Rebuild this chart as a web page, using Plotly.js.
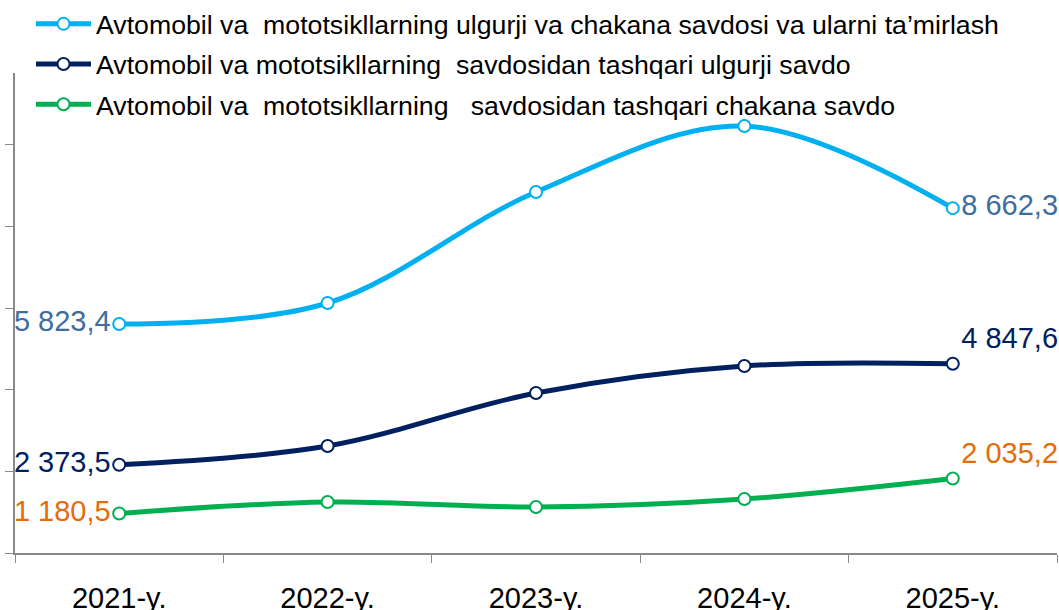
<!DOCTYPE html>
<html>
<head>
<meta charset="utf-8">
<script src="https://cdn.plot.ly/plotly-3.0.1.min.js"></script>
<style>
html,body{margin:0;padding:0;background:#fff;}
#chart{width:1059px;height:610px;}
</style>
</head>
<body>
<div id="chart"></div>
<script>
const categories = ["2021-y.", "2022-y.", "2023-y.", "2024-y.", "2025-y."];
const seriesNames = [
  "Avtomobil va\u00A0 mototsikllarning ulgurji va chakana savdosi va ularni ta’mirlash",
  "Avtomobil va mototsikllarning\u00A0 savdosidan tashqari ulgurji savdo",
  "Avtomobil va\u00A0 mototsikllarning\u00A0\u00A0 savdosidan tashqari chakana savdo"
];
const repairTrade = [5823.4, 6338, 9059, 10676, 8662.3];
const wholesaleTrade = [2373.5, 2833, 4132, 4794, 4847.6];
const retailTrade = [1180.5, 1461, 1338, 1534, 2035.2];

const lineColors = ["#00B0F0", "#002060", "#00B050"];
const labelColors = ["#3F6D9E", "#002060", "#E46C0A"];
const lastPos = ["middle right", "top right", "top right"];

function fmt(v){
  const parts = v.toFixed(1).split(".");
  const intPart = parts[0].replace(/\B(?=(\d{3})+(?!\d))/g, " ");
  return intPart + "," + parts[1];
}

const allSeries = [repairTrade, wholesaleTrade, retailTrade];
const traces = allSeries.map((vals, k) => {
  const last = vals.length - 1;
  return {
    type: "scatter",
    mode: "lines+markers+text",
    name: seriesNames[k],
    legendgroup: "g" + k,
    x: categories,
    y: vals,
    text: vals.map((v, i) => (i === 0 || i === last) ? fmt(v) : ""),
    textposition: vals.map((v, i) => i === 0 ? "middle left" : (i === last ? lastPos[k] : "middle center")),
    textfont: {family: "Liberation Sans, Arial, sans-serif", size: 29, color: labelColors[k]},
    cliponaxis: false,
    line: {color: lineColors[k], width: 5, shape: "spline", smoothing: 1},
    marker: {symbol: "circle", size: 12, color: "#ffffff", line: {color: lineColors[k], width: 2}},
    hoverinfo: "x+y"
  };
});

const layout = {
  width: 1059,
  height: 610,
  margin: {l: 15, r: 2, t: 73, b: 57, pad: 0, autoexpand: false},
  paper_bgcolor: "#ffffff",
  plot_bgcolor: "#ffffff",
  font: {family: "Liberation Sans, Arial, sans-serif", color: "#000000"},
  showlegend: true,
  legend: {
    xref: "container", yref: "container",
    x: 31 / 1059, y: 1.0, xanchor: "left", yanchor: "top",
    orientation: "v",
    font: {size: 26.7, color: "#000000"},
    itemwidth: 55,
    tracegroupgap: 2.5,
    bgcolor: "rgba(0,0,0,0)"
  },
  xaxis: {
    type: "category",
    range: [-0.5, 4.5],
    showgrid: false,
    zeroline: false,
    showline: true,
    linecolor: "#898989",
    linewidth: 2,
    ticks: "outside",
    tickson: "boundaries",
    ticklen: 8,
    tickwidth: 1,
    tickcolor: "#898989",
    tickfont: {size: 29, color: "#000000"},
    ticklabelstandoff: 18,
    fixedrange: true
  },
  yaxis: {
    range: [211, 11975],
    tick0: 211,
    dtick: 2000,
    showgrid: false,
    zeroline: false,
    showline: true,
    linecolor: "#898989",
    linewidth: 2,
    ticks: "outside",
    ticklen: 8,
    tickwidth: 1,
    tickcolor: "#898989",
    showticklabels: false,
    fixedrange: true
  }
};

Plotly.newPlot("chart", traces, layout, {displayModeBar: false, staticPlot: true});
</script>
</body>
</html>
